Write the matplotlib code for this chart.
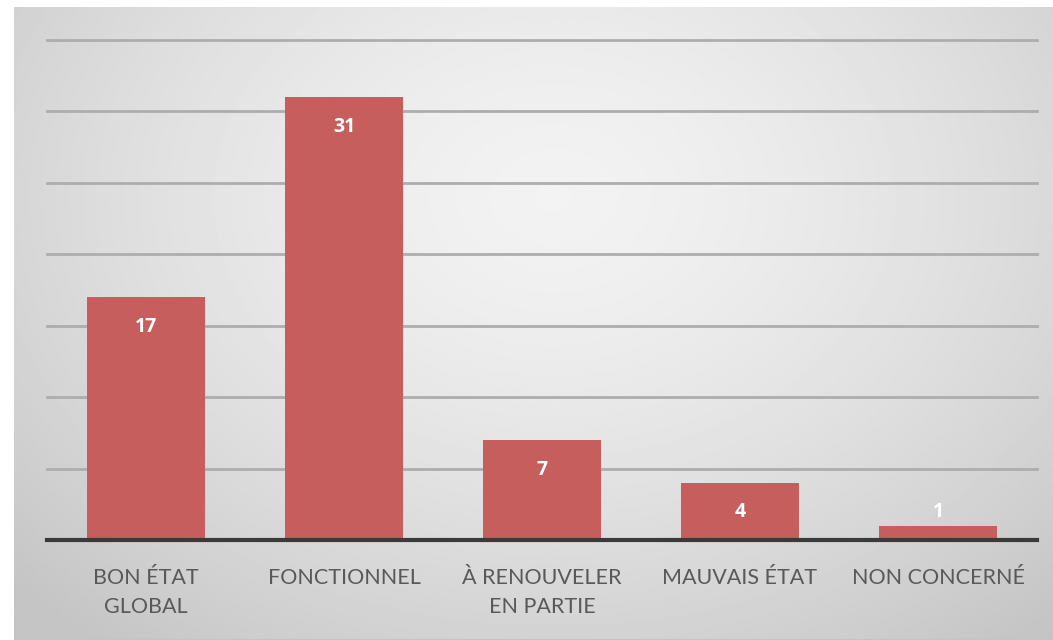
import numpy as np
import matplotlib.pyplot as plt

# data
categories = ["BON ÉTAT\nGLOBAL", "FONCTIONNEL", "À RENOUVELER\nEN PARTIE",
              "MAUVAIS ÉTAT", "NON CONCERNÉ"]
values = [17, 31, 7, 4, 1]
grid_levels = [5, 10, 15, 20, 25, 30, 35]

plt.rcParams['font.family'] = ['Lato', 'DejaVu Sans']

W, H = 1053, 640
fig = plt.figure(figsize=(W / 100, H / 100), dpi=100)
fig.patch.set_facecolor('white')

# gray radial-gradient panel behind the chart
bg = fig.add_axes([14 / W, 0, 1 - 14 / W, (H - 7) / H])
yy, xx = np.mgrid[0:1:300j, 0:1:500j]
r = np.sqrt(((xx - 0.52) / 0.72) ** 2 + ((yy - 0.3) / 0.9) ** 2)
shade = 0.95 - 0.18 * np.clip(r, 0, 1) ** 1.5
bg.imshow(shade, cmap='gray', vmin=0, vmax=1, aspect='auto',
          extent=[0, 1, 1, 0], interpolation='bilinear')
bg.axhline(1, color='#c4c4c4', lw=1.5)
bg.set_axis_off()

ax = fig.add_axes([47 / W, (H - 540) / H, (1037 - 47) / W, 500 / H])
ax.patch.set_alpha(0)
ax.set_xlim(-0.5, len(values) - 0.5)
ax.set_ylim(0, 35)

for g in grid_levels:
    ax.axhline(g, color='#adadad', lw=2, zorder=1, clip_on=False)

x = np.arange(len(values))
ax.bar(x, values, width=0.595, color='#c55e5c', zorder=2)
ax.axhline(0, color='#3a3a3a', lw=3, zorder=3, clip_on=False)

for xi, v in zip(x, values):
    ax.text(xi, max(v - 2.1, 1.96), str(v), ha='center', va='center',
            color='white', fontsize=14, fontweight='bold',
            family=['Open Sans', 'DejaVu Sans'], zorder=4)

ax.set_xticks(x)
ax.set_xticklabels(categories, fontsize=15.5, color='#595959', linespacing=1.55)
ax.tick_params(axis='x', length=0, pad=20)
ax.set_yticks([])
for s in ax.spines.values():
    s.set_visible(False)

fig.savefig('out.png', dpi=100)
